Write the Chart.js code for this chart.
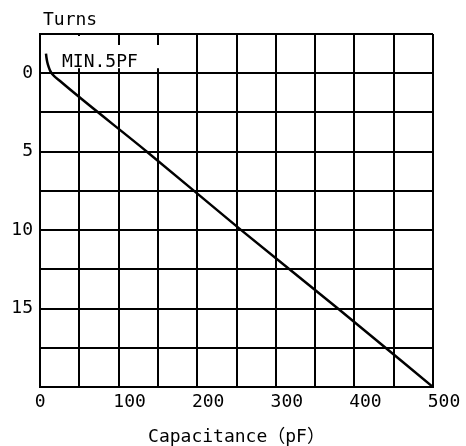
<!DOCTYPE html>
<html><head><meta charset="utf-8">
<script src="https://cdn.jsdelivr.net/npm/chart.js@4.4.0/dist/chart.umd.min.js"></script>
<style>html,body{margin:0;padding:0;background:#fff}canvas{display:block}</style>
</head><body>
<canvas id="c" width="466" height="446"></canvas>
<script>
const capacitance = [7.6, 8.2, 9.3, 11.0, 13.0, 15.5, 25.5, 136, 256, 379, 500];
const turns = [-1.25, -1.0, -0.7, -0.4, -0.15, 0.05, 0.5, 5, 10, 15, 20];
const xLabelValues = [0, 100, 200, 300, 400, 500];
const yLabelValues = [0, 5, 10, 15];
const xTitle = 'Capacitance（pF）';
const yTitle = 'Turns';
const noteText = 'MIN.5PF';
const FONT = '"DejaVu Sans Mono", "Noto Sans CJK SC", monospace';

const overlay = {
  id: 'overlay',
  beforeDatasetsDraw(chart) {
    const {ctx, scales: {x, y}} = chart;
    const x0 = x.getPixelForValue(0), x100 = x.getPixelForValue(100), x170 = x.getPixelForValue(170);
    const yTop = y.getPixelForValue(-2.5), y0 = y.getPixelForValue(0);
    ctx.save();
    ctx.fillStyle = '#fff';
    ctx.fillRect(x0 + 2, yTop + 2, x100 - 2 - (x0 + 2), (y0 - 5) - (yTop + 2));
    ctx.fillRect(x100 - 3, yTop + 11, x170 - (x100 - 3), (y0 - 5) - (yTop + 11));
    ctx.fillStyle = '#000';
    ctx.font = '18px ' + FONT;
    ctx.textBaseline = 'alphabetic';
    ctx.textAlign = 'left';
    ctx.fillText(noteText, x0 + 22, y0 - 6);
    ctx.restore();
  },
  afterDraw(chart) {
    const {ctx, chartArea} = chart;
    ctx.save();
    ctx.fillStyle = '#000';
    ctx.font = '18px ' + FONT;
    ctx.textBaseline = 'alphabetic';
    ctx.textAlign = 'left';
    ctx.fillText(yTitle, chartArea.left + 3, 25);
    ctx.restore();
  }
};

new Chart(document.getElementById('c'), {
  type: 'line',
  data: {
    datasets: [{
      data: capacitance.map((c, i) => ({x: c, y: turns[i]})),
      borderColor: '#000',
      borderWidth: 2.5,
      pointRadius: 0,
      fill: false,
      cubicInterpolationMode: 'monotone'
    }]
  },
  options: {
    responsive: false,
    animation: false,
    devicePixelRatio: 1,
    layout: {padding: {top: 34, right: 33, left: 0, bottom: 0}},
    plugins: {legend: {display: false}, tooltip: {enabled: false}, title: {display: false}},
    scales: {
      x: {
        type: 'linear', min: 0, max: 500,
        afterFit(s) { s.height = 59; },
        grid: {color: '#000', lineWidth: 2, drawTicks: false},
        border: {color: '#000', width: 2},
        ticks: {
          stepSize: 50, color: '#000', padding: 5, labelOffset: 11, maxRotation: 0, autoSkip: false,
          font: {family: FONT, size: 18},
          callback: v => xLabelValues.includes(v) ? (v === 0 ? '0  ' : String(v)) : ''
        },
        title: {display: true, text: xTitle, color: '#000', font: {family: FONT, size: 18, lineHeight: 1.0}, padding: 0}
      },
      y: {
        type: 'linear', min: -2.5, max: 20, reverse: true,
        afterFit(s) { s.width = 40; },
        grid: {color: '#000', lineWidth: 2, drawTicks: false},
        border: {color: '#000', width: 2},
        ticks: {
          stepSize: 2.5, color: '#000', padding: 7, autoSkip: false,
          font: {family: FONT, size: 18},
          callback: v => yLabelValues.includes(v) ? String(v) : ''
        }
      }
    }
  },
  plugins: [overlay]
});
</script>
</body></html>
